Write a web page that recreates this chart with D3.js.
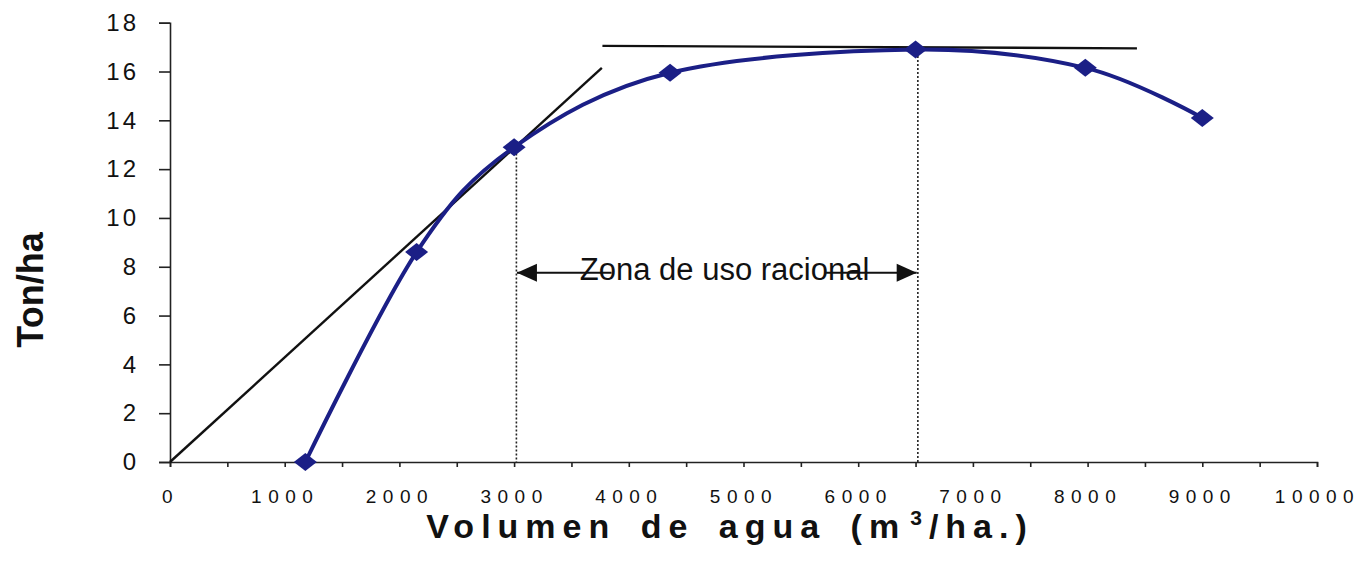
<!DOCTYPE html>
<html>
<head>
<meta charset="utf-8">
<script src="https://cdn.jsdelivr.net/npm/d3@7"></script>
<style>
  body { margin: 0; background: #fff; }
  text { font-family: "Liberation Sans", Arial, sans-serif; fill: #111; }
</style>
</head>
<body>
<svg id="chart" width="1364" height="566"></svg>
<script>
// datos
let volumen = [1180, 2150, 3000, 4360, 6500, 7980, 9000]
let toneladas = [0, 8.6, 12.9, 15.95, 16.9, 16.15, 14.1]
let xTicks = d3.range(0, 10001, 500)
let xLabels = d3.range(0, 10001, 1000)
let yTicks = d3.range(0, 19, 2)
let tangente = [[0, 0], [3765, 16.15]]
let techo = [[3770, 17.05], [8430, 16.95]]
let zonaLimites = [[3020, 12.8], [6520, 16.8]]
let flechaIzq = [3025, 3850]
let flechaDer = [5720, 6510]
let flechaY = 7.75
let zonaTexto = "Zona de uso racional"
let zonaPos = [4835, 7.46]

let svg = d3.select("#chart")
let azul = "#1b1f86"

let xScale = d3.scaleLinear().domain([0, 10000]).range([170, 1317])
let yScale = d3.scaleLinear().domain([0, 18]).range([462, 22.7])

// eje y
let yAxis = d3.axisLeft(yScale).tickValues(yTicks).tickSize(11).tickPadding(20)
let yAxisGroup = svg.append("g")
  .attr("transform", `translate(${xScale(0)},0)`)
  .call(yAxis)
yAxisGroup.selectAll("text")
  .style("font-size", "24px")
  .style("letter-spacing", "3px")
  .style("font-family", "'Liberation Sans', Arial, sans-serif")
  .attr("fill", "#111")

// eje x
let xAxis = d3.axisBottom(xScale).tickValues(xTicks).tickSize(5).tickPadding(23)
  .tickFormat(d => xLabels.includes(d) ? d : "")
let xAxisGroup = svg.append("g")
  .attr("transform", `translate(0,${yScale(0)})`)
  .call(xAxis)
xAxisGroup.selectAll("text")
  .style("font-size", "19px")
  .style("letter-spacing", "6.5px")
  .style("font-family", "'Liberation Sans', Arial, sans-serif")
  .attr("fill", "#111")

svg.selectAll(".domain, .tick line").attr("stroke", "#222").attr("stroke-width", 1.6)

// lineas verticales punteadas
svg.selectAll(".zona")
  .data(zonaLimites)
  .enter()
  .append("line")
  .attr("class", "zona")
  .attr("x1", d => xScale(d[0]))
  .attr("x2", d => xScale(d[0]))
  .attr("y1", d => yScale(d[1]))
  .attr("y2", yScale(0))
  .attr("stroke", "#222")
  .attr("stroke-width", 1.6)
  .attr("stroke-dasharray", "2,2")

// tangente y techo
let recta = d3.line().x(d => xScale(d[0])).y(d => yScale(d[1]))
svg.append("path").attr("d", recta(tangente))
  .attr("stroke", "#111").attr("stroke-width", 2.4).attr("fill", "none")
svg.append("path").attr("d", recta(techo))
  .attr("stroke", "#111").attr("stroke-width", 2.4).attr("fill", "none")

// texto de la zona
svg.append("text")
  .attr("x", xScale(zonaPos[0]))
  .attr("y", yScale(zonaPos[1]))
  .attr("text-anchor", "middle")
  .style("font-size", "31px")
  .text(zonaTexto)

// flechas
function flecha(x1, x2, y) {
  let a = xScale(x1), b = xScale(x2), yy = yScale(y)
  svg.append("line").attr("x1", a).attr("x2", b).attr("y1", yy).attr("y2", yy)
    .attr("stroke", "#111").attr("stroke-width", 2)
}
flecha(flechaIzq[0], flechaIzq[1], flechaY)
flecha(flechaDer[0], flechaDer[1], flechaY)
let puntas = [[flechaIzq[0], 1], [flechaDer[1], -1]]
svg.selectAll(".punta")
  .data(puntas)
  .enter()
  .append("path")
  .attr("class", "punta")
  .attr("d", d => {
    let px = xScale(d[0]), py = yScale(flechaY), s = d[1]
    return `M${px},${py} L${px + s * 20},${py - 9} L${px + s * 20},${py + 9} Z`
  })
  .attr("fill", "#111")

// curva suavizada
let puntos = volumen.map((v, i) => [v, toneladas[i]])
let curva = d3.line()
  .x(d => xScale(d[0]))
  .y(d => yScale(d[1]))
  .curve(d3.curveCardinal.tension(0))
svg.append("path")
  .attr("d", curva(puntos))
  .attr("stroke", azul)
  .attr("stroke-width", 4)
  .attr("fill", "none")

svg.selectAll(".marca")
  .data(puntos)
  .enter()
  .append("path")
  .attr("class", "marca")
  .attr("d", "M0,-9 L11.5,0 L0,9 L-11.5,0 Z")
  .attr("transform", d => `translate(${xScale(d[0])},${yScale(d[1])})`)
  .attr("fill", azul)

// titulos
let tituloX = svg.append("text")
  .attr("x", 730)
  .attr("y", 538)
  .attr("text-anchor", "middle")
  .style("font-size", "34px")
  .style("font-weight", "bold")
  .style("letter-spacing", "7px")
  .style("word-spacing", "8px")
tituloX.append("tspan").text("Volumen de agua (m")
tituloX.append("tspan").attr("dx", 4).attr("dy", -13).style("font-size", "21px").text("3")
tituloX.append("tspan").attr("dy", 13).text("/ha.)")

svg.append("text")
  .attr("transform", "translate(43,290) rotate(-90)")
  .attr("text-anchor", "middle")
  .style("font-size", "36px")
  .style("font-weight", "bold")
  .text("Ton/ha")
</script>
</body>
</html>
